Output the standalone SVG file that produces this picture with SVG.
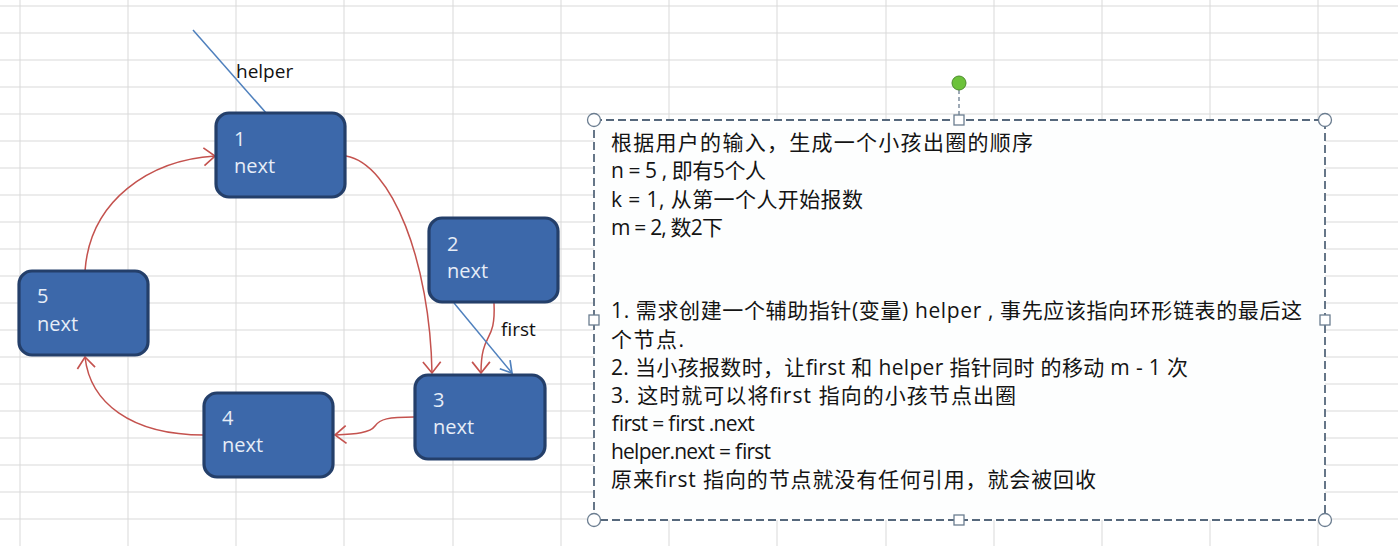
<svg xmlns="http://www.w3.org/2000/svg" width="1398" height="546" viewBox="0 0 1398 546">
<style>
.grid line{stroke:#d9d9d9;stroke-width:1}
.node rect{fill:#3c68aa;stroke:#243f6a;stroke-width:3.2}
.node text{font-family:"Open Sans","Liberation Sans",sans-serif;font-size:20px;fill:#e6edf7}
.red{fill:none;stroke:#c4524e;stroke-width:1.5}
.blue{fill:none;stroke:#4f80bd;stroke-width:1.5}
.lbl{font-family:"Open Sans","Liberation Sans",sans-serif;font-size:19px;fill:#111}
.box text{font-family:"Open Sans","Noto Sans CJK SC",sans-serif;font-size:21px;fill:#141414}
.h{fill:#fff;stroke:#6b7d90;stroke-width:1.3}
</style>
<defs>
<marker id="ar" markerUnits="userSpaceOnUse" markerWidth="14" markerHeight="20" viewBox="-1 -9 12 18" refX="10" refY="0" orient="auto">
<path d="M0,-8 L10,0 L0,8" fill="none" stroke="#c4524e" stroke-width="1.5"/>
</marker>
<marker id="ab" markerUnits="userSpaceOnUse" markerWidth="14" markerHeight="20" viewBox="-1 -9 12 18" refX="10" refY="0" orient="auto">
<path d="M0,-6 L10,0 L0,6" fill="none" stroke="#4f80bd" stroke-width="1.5"/>
</marker>
</defs>
<rect width="1398" height="546" fill="#fff"/>
<g class="grid">
<line x1="20" y1="0" x2="20" y2="546"/><line x1="128" y1="0" x2="128" y2="546"/><line x1="236" y1="0" x2="236" y2="546"/><line x1="344" y1="0" x2="344" y2="546"/><line x1="453" y1="0" x2="453" y2="546"/><line x1="561" y1="0" x2="561" y2="546"/><line x1="669" y1="0" x2="669" y2="546"/><line x1="777" y1="0" x2="777" y2="546"/><line x1="886" y1="0" x2="886" y2="546"/><line x1="994" y1="0" x2="994" y2="546"/><line x1="1102" y1="0" x2="1102" y2="546"/><line x1="1210" y1="0" x2="1210" y2="546"/><line x1="1318" y1="0" x2="1318" y2="546"/>
<line x1="0" y1="6" x2="1398" y2="6"/><line x1="0" y1="33" x2="1398" y2="33"/><line x1="0" y1="60" x2="1398" y2="60"/><line x1="0" y1="87" x2="1398" y2="87"/><line x1="0" y1="114" x2="1398" y2="114"/><line x1="0" y1="141" x2="1398" y2="141"/><line x1="0" y1="168" x2="1398" y2="168"/><line x1="0" y1="195" x2="1398" y2="195"/><line x1="0" y1="222" x2="1398" y2="222"/><line x1="0" y1="249" x2="1398" y2="249"/><line x1="0" y1="276" x2="1398" y2="276"/><line x1="0" y1="303" x2="1398" y2="303"/><line x1="0" y1="330" x2="1398" y2="330"/><line x1="0" y1="357" x2="1398" y2="357"/><line x1="0" y1="384" x2="1398" y2="384"/><line x1="0" y1="411" x2="1398" y2="411"/><line x1="0" y1="438" x2="1398" y2="438"/><line x1="0" y1="465" x2="1398" y2="465"/><line x1="0" y1="492" x2="1398" y2="492"/><line x1="0" y1="519" x2="1398" y2="519"/>
</g>

<g id="connectors">
<path class="red" d="M346,156 C392,164 430,262 432,373" marker-end="url(#ar)"/>
<path class="red" d="M494,303 C496,345 481,330 481,373" marker-end="url(#ar)"/>
<path class="red" d="M414,417 C388,417 380,419 375,426 C370,433 356,434 335,435" marker-end="url(#ar)"/>
<path class="red" d="M204,435 C130,435 90,402 85,357" marker-end="url(#ar)"/>
<path class="red" d="M85,271 C90,200 150,160 215,156" marker-end="url(#ar)"/>
<path class="blue" d="M193,30 L267,114"/>
<path class="blue" d="M454,303 L512,373" marker-end="url(#ab)"/>
</g>

<g id="node1" class="node"><rect x="216" y="113" width="129" height="84" rx="13"/><text x="234" y="146">1</text><text x="234" y="173">next</text></g>
<g id="node2" class="node"><rect x="429" y="218" width="129" height="84" rx="13"/><text x="447" y="251">2</text><text x="447" y="278">next</text></g>
<g id="node3" class="node"><rect x="415" y="375" width="130" height="84" rx="13"/><text x="433" y="407">3</text><text x="433" y="434">next</text></g>
<g id="node4" class="node"><rect x="204" y="393" width="129" height="84" rx="13"/><text x="222" y="425">4</text><text x="222" y="452">next</text></g>
<g id="node5" class="node"><rect x="19" y="271" width="129" height="84" rx="13"/><text x="37" y="303">5</text><text x="37" y="331">next</text></g>

<g id="labels">
<text class="lbl" x="236" y="78">helper</text>
<text class="lbl" x="501" y="336">first</text>
</g>

<g id="textbox" class="box">
<line x1="959" y1="90" x2="959" y2="115" stroke="#6b7d90" stroke-width="1.3" stroke-dasharray="4 3"/>
<circle cx="959" cy="83" r="7" fill="#6cc23a" stroke="#4c8c2c" stroke-width="1"/>
<rect x="594" y="120" width="731" height="400" fill="#fdfefe" stroke="#56687c" stroke-width="1.8" stroke-dasharray="8 4"/>
<text x="611" y="150" textLength="422" lengthAdjust="spacing">根据用户的输入，生成一个小孩出圈的顺序</text>
<text x="611" y="178" textLength="155" lengthAdjust="spacing">n = 5 , 即有5个人</text>
<text x="611" y="207" textLength="252" lengthAdjust="spacing">k = 1, 从第一个人开始报数</text>
<text x="611" y="235" textLength="112" lengthAdjust="spacing">m = 2, 数2下</text>
<text x="611" y="318" textLength="691" lengthAdjust="spacing">1.  需求创建一个辅助指针(变量) helper , 事先应该指向环形链表的最后这</text>
<text x="611" y="347" textLength="73" lengthAdjust="spacing">个节点.</text>
<text x="611" y="375" textLength="577" lengthAdjust="spacing">2.  当小孩报数时，让first 和 helper 指针同时 的移动  m  - 1 次</text>
<text x="611" y="403" textLength="405" lengthAdjust="spacing">3.  这时就可以将first 指向的小孩节点出圈</text>
<text x="611" y="431" textLength="143" lengthAdjust="spacing">first = first .next</text>
<text x="611" y="459" textLength="160" lengthAdjust="spacing">helper.next = first</text>
<text x="611" y="487" textLength="485" lengthAdjust="spacing">原来first 指向的节点就没有任何引用，就会被回收</text>
<circle class="h" cx="594" cy="120" r="6.5"/><circle class="h" cx="1325" cy="120" r="6.5"/><circle class="h" cx="594" cy="520" r="6.5"/><circle class="h" cx="1325" cy="520" r="6.5"/>
<rect class="h" x="954" y="115" width="10" height="10"/><rect class="h" x="954" y="515" width="10" height="10"/><rect class="h" x="589" y="315" width="10" height="10"/><rect class="h" x="1320" y="315" width="10" height="10"/>
</g>
</svg>
